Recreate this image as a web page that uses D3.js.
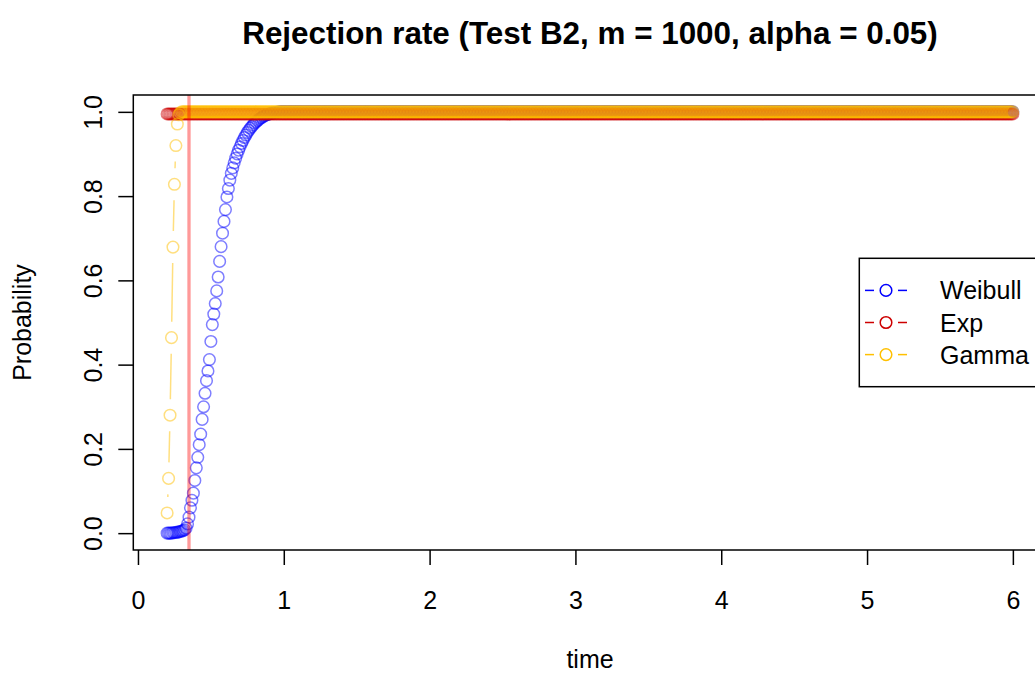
<!DOCTYPE html>
<html><head><meta charset="utf-8">
<script src="https://cdn.jsdelivr.net/npm/d3@7"></script>
<style>body{margin:0;background:#fff}svg{display:block}text{font-family:"Liberation Sans",Arial,Helvetica,sans-serif}</style>
</head><body><svg id="c" width="1035" height="675"></svg>
<script>
const time = [
0.2,0.21,0.22,0.23,0.24,0.25,0.26,0.27,0.28,0.29,
0.3,0.31,0.32,0.33,0.34,0.35,0.36,0.37,0.38,0.39,
0.4,0.41,0.42,0.43,0.44,0.45,0.46,0.47,0.48,0.49,
0.5,0.51,0.52,0.53,0.54,0.55,0.56,0.57,0.58,0.59,
0.6,0.61,0.62,0.63,0.64,0.65,0.66,0.67,0.68,0.69,
0.7,0.71,0.72,0.73,0.74,0.75,0.76,0.77,0.78,0.79,
0.8,0.81,0.82,0.83,0.84,0.85,0.86,0.87,0.88,0.89,
0.9,0.91,0.92,0.93,0.94,0.95,0.96,0.97,0.98,0.99,
1,1.01,1.02,1.03,1.04,1.05,1.06,1.07,1.08,1.09,
1.1,1.11,1.12,1.13,1.14,1.15,1.16,1.17,1.18,1.19,
1.2,1.21,1.22,1.23,1.24,1.25,1.26,1.27,1.28,1.29,
1.3,1.31,1.32,1.33,1.34,1.35,1.36,1.37,1.38,1.39,
1.4,1.41,1.42,1.43,1.44,1.45,1.46,1.47,1.48,1.49,
1.5,1.51,1.52,1.53,1.54,1.55,1.56,1.57,1.58,1.59,
1.6,1.61,1.62,1.63,1.64,1.65,1.66,1.67,1.68,1.69,
1.7,1.71,1.72,1.73,1.74,1.75,1.76,1.77,1.78,1.79,
1.8,1.81,1.82,1.83,1.84,1.85,1.86,1.87,1.88,1.89,
1.9,1.91,1.92,1.93,1.94,1.95,1.96,1.97,1.98,1.99,
2,2.01,2.02,2.03,2.04,2.05,2.06,2.07,2.08,2.09,
2.1,2.11,2.12,2.13,2.14,2.15,2.16,2.17,2.18,2.19,
2.2,2.21,2.22,2.23,2.24,2.25,2.26,2.27,2.28,2.29,
2.3,2.31,2.32,2.33,2.34,2.35,2.36,2.37,2.38,2.39,
2.4,2.41,2.42,2.43,2.44,2.45,2.46,2.47,2.48,2.49,
2.5,2.51,2.52,2.53,2.54,2.55,2.56,2.57,2.58,2.59,
2.6,2.61,2.62,2.63,2.64,2.65,2.66,2.67,2.68,2.69,
2.7,2.71,2.72,2.73,2.74,2.75,2.76,2.77,2.78,2.79,
2.8,2.81,2.82,2.83,2.84,2.85,2.86,2.87,2.88,2.89,
2.9,2.91,2.92,2.93,2.94,2.95,2.96,2.97,2.98,2.99,
3,3.01,3.02,3.03,3.04,3.05,3.06,3.07,3.08,3.09,
3.1,3.11,3.12,3.13,3.14,3.15,3.16,3.17,3.18,3.19,
3.2,3.21,3.22,3.23,3.24,3.25,3.26,3.27,3.28,3.29,
3.3,3.31,3.32,3.33,3.34,3.35,3.36,3.37,3.38,3.39,
3.4,3.41,3.42,3.43,3.44,3.45,3.46,3.47,3.48,3.49,
3.5,3.51,3.52,3.53,3.54,3.55,3.56,3.57,3.58,3.59,
3.6,3.61,3.62,3.63,3.64,3.65,3.66,3.67,3.68,3.69,
3.7,3.71,3.72,3.73,3.74,3.75,3.76,3.77,3.78,3.79,
3.8,3.81,3.82,3.83,3.84,3.85,3.86,3.87,3.88,3.89,
3.9,3.91,3.92,3.93,3.94,3.95,3.96,3.97,3.98,3.99,
4,4.01,4.02,4.03,4.04,4.05,4.06,4.07,4.08,4.09,
4.1,4.11,4.12,4.13,4.14,4.15,4.16,4.17,4.18,4.19,
4.2,4.21,4.22,4.23,4.24,4.25,4.26,4.27,4.28,4.29,
4.3,4.31,4.32,4.33,4.34,4.35,4.36,4.37,4.38,4.39,
4.4,4.41,4.42,4.43,4.44,4.45,4.46,4.47,4.48,4.49,
4.5,4.51,4.52,4.53,4.54,4.55,4.56,4.57,4.58,4.59,
4.6,4.61,4.62,4.63,4.64,4.65,4.66,4.67,4.68,4.69,
4.7,4.71,4.72,4.73,4.74,4.75,4.76,4.77,4.78,4.79,
4.8,4.81,4.82,4.83,4.84,4.85,4.86,4.87,4.88,4.89,
4.9,4.91,4.92,4.93,4.94,4.95,4.96,4.97,4.98,4.99,
5,5.01,5.02,5.03,5.04,5.05,5.06,5.07,5.08,5.09,
5.1,5.11,5.12,5.13,5.14,5.15,5.16,5.17,5.18,5.19,
5.2,5.21,5.22,5.23,5.24,5.25,5.26,5.27,5.28,5.29,
5.3,5.31,5.32,5.33,5.34,5.35,5.36,5.37,5.38,5.39,
5.4,5.41,5.42,5.43,5.44,5.45,5.46,5.47,5.48,5.49,
5.5,5.51,5.52,5.53,5.54,5.55,5.56,5.57,5.58,5.59,
5.6,5.61,5.62,5.63,5.64,5.65,5.66,5.67,5.68,5.69,
5.7,5.71,5.72,5.73,5.74,5.75,5.76,5.77,5.78,5.79,
5.8,5.81,5.82,5.83,5.84,5.85,5.86,5.87,5.88,5.89,
5.9,5.91,5.92,5.93,5.94,5.95,5.96,5.97,5.98,5.99,
6];

const weibull = [
0,0,0,0,0.001,0.001,0.002,0.002,0.003,0.004,
0.005,0.006,0.008,0.012,0.022,0.038,0.06,0.078,0.095,0.125,
0.155,0.18,0.21,0.235,0.27,0.3,0.332,0.362,0.385,0.412,
0.455,0.495,0.52,0.545,0.575,0.608,0.645,0.68,0.712,0.74,
0.768,0.798,0.818,0.838,0.854,0.867,0.879,0.89,0.9,0.909,
0.917,0.925,0.932,0.939,0.945,0.951,0.956,0.961,0.965,0.969,
0.973,0.976,0.979,0.982,0.985,0.987,0.989,0.991,0.993,0.994,
0.995,0.996,0.997,0.998,0.998,0.999,0.999,1,1,1,
1,1,1,1,1,1,1,1,1,1,
1,1,1,1,1,1,1,1,1,1,
1,1,1,1,1,1,1,1,1,1,
1,1,1,1,1,1,1,1,1,1,
1,1,1,1,1,1,1,1,1,1,
1,1,1,1,1,1,1,1,1,1,
1,1,1,1,1,1,1,1,1,1,
1,1,1,1,1,1,1,1,1,1,
1,1,1,1,1,1,1,1,1,1,
1,1,1,1,1,1,1,1,1,1,
1,1,1,1,1,1,1,1,1,1,
1,1,1,1,1,1,1,1,1,1,
1,1,1,1,1,1,1,1,1,1,
1,1,1,1,1,1,1,1,1,1,
1,1,1,1,1,1,1,1,1,1,
1,1,1,1,1,1,1,1,1,1,
1,1,1,1,1,1,1,1,1,1,
1,1,1,1,1,1,1,1,1,1,
1,1,1,1,1,1,1,1,1,1,
1,1,1,1,1,1,1,1,1,1,
1,1,1,1,1,1,1,1,1,1,
1,1,1,1,1,1,1,1,1,1,
1,1,1,1,1,1,1,1,1,1,
1,1,1,1,1,1,1,1,1,1,
1,1,1,1,1,1,1,1,1,1,
1,1,1,1,1,1,1,1,1,1,
1,1,1,1,1,1,1,1,1,1,
1,1,1,1,1,1,1,1,1,1,
1,1,1,1,1,1,1,1,1,1,
1,1,1,1,1,1,1,1,1,1,
1,1,1,1,1,1,1,1,1,1,
1,1,1,1,1,1,1,1,1,1,
1,1,1,1,1,1,1,1,1,1,
1,1,1,1,1,1,1,1,1,1,
1,1,1,1,1,1,1,1,1,1,
1,1,1,1,1,1,1,1,1,1,
1,1,1,1,1,1,1,1,1,1,
1,1,1,1,1,1,1,1,1,1,
1,1,1,1,1,1,1,1,1,1,
1,1,1,1,1,1,1,1,1,1,
1,1,1,1,1,1,1,1,1,1,
1,1,1,1,1,1,1,1,1,1,
1,1,1,1,1,1,1,1,1,1,
1,1,1,1,1,1,1,1,1,1,
1,1,1,1,1,1,1,1,1,1,
1,1,1,1,1,1,1,1,1,1,
1,1,1,1,1,1,1,1,1,1,
1,1,1,1,1,1,1,1,1,1,
1,1,1,1,1,1,1,1,1,1,
1,1,1,1,1,1,1,1,1,1,
1];

const expo = [
0.995,0.995,0.995,0.995,0.995,0.995,0.995,0.995,0.995,0.995,
0.995,0.995,0.995,0.995,0.995,0.995,0.995,0.995,0.995,0.995,
0.995,0.995,0.995,0.995,0.995,0.995,0.995,0.995,0.995,0.995,
0.995,0.995,0.995,0.995,0.995,0.995,0.995,0.995,0.995,0.995,
0.995,0.995,0.995,0.995,0.995,0.995,0.995,0.995,0.995,0.995,
0.995,0.995,0.995,0.995,0.995,0.995,0.995,0.995,0.995,0.995,
0.995,0.995,0.995,0.995,0.995,0.995,0.995,0.995,0.995,0.995,
0.995,0.995,0.995,0.995,0.995,0.995,0.995,0.995,0.995,0.995,
0.995,0.995,0.995,0.995,0.995,0.995,0.995,0.995,0.995,0.995,
0.995,0.995,0.995,0.995,0.995,0.995,0.995,0.995,0.995,0.995,
0.995,0.995,0.995,0.995,0.995,0.995,0.995,0.995,0.995,0.995,
0.995,0.995,0.995,0.995,0.995,0.995,0.995,0.995,0.995,0.995,
0.995,0.995,0.995,0.995,0.995,0.995,0.995,0.995,0.995,0.995,
0.995,0.995,0.995,0.995,0.995,0.995,0.995,0.995,0.995,0.995,
0.995,0.995,0.995,0.995,0.995,0.995,0.995,0.995,0.995,0.995,
0.995,0.995,0.995,0.995,0.995,0.995,0.995,0.995,0.995,0.995,
0.995,0.995,0.995,0.995,0.995,0.995,0.995,0.995,0.995,0.995,
0.995,0.995,0.995,0.995,0.995,0.995,0.995,0.995,0.995,0.995,
0.995,0.995,0.995,0.995,0.995,0.995,0.995,0.995,0.995,0.995,
0.995,0.995,0.995,0.995,0.995,0.995,0.995,0.995,0.995,0.995,
0.995,0.995,0.995,0.995,0.995,0.995,0.995,0.995,0.995,0.995,
0.995,0.995,0.995,0.995,0.995,0.995,0.995,0.995,0.995,0.995,
0.995,0.995,0.995,0.995,0.995,0.995,0.995,0.995,0.995,0.995,
0.995,0.995,0.995,0.995,0.995,0.995,0.995,0.995,0.995,0.995,
0.995,0.995,0.995,0.995,0.995,0.995,0.995,0.995,0.995,0.995,
0.995,0.995,0.995,0.995,0.995,0.995,0.995,0.995,0.995,0.995,
0.995,0.995,0.995,0.995,0.995,0.995,0.995,0.995,0.995,0.995,
0.995,0.995,0.995,0.995,0.995,0.995,0.995,0.995,0.995,0.995,
0.995,0.995,0.995,0.995,0.995,0.995,0.995,0.995,0.995,0.995,
0.995,0.995,0.995,0.995,0.995,0.995,0.995,0.995,0.995,0.995,
0.995,0.995,0.995,0.995,0.995,0.995,0.995,0.995,0.995,0.995,
0.995,0.995,0.995,0.995,0.995,0.995,0.995,0.995,0.995,0.995,
0.995,0.995,0.995,0.995,0.995,0.995,0.995,0.995,0.995,0.995,
0.995,0.995,0.995,0.995,0.995,0.995,0.995,0.995,0.995,0.995,
0.995,0.995,0.995,0.995,0.995,0.995,0.995,0.995,0.995,0.995,
0.995,0.995,0.995,0.995,0.995,0.995,0.995,0.995,0.995,0.995,
0.995,0.995,0.995,0.995,0.995,0.995,0.995,0.995,0.995,0.995,
0.995,0.995,0.995,0.995,0.995,0.995,0.995,0.995,0.995,0.995,
0.995,0.995,0.995,0.995,0.995,0.995,0.995,0.995,0.995,0.995,
0.995,0.995,0.995,0.995,0.995,0.995,0.995,0.995,0.995,0.995,
0.995,0.995,0.995,0.995,0.995,0.995,0.995,0.995,0.995,0.995,
0.995,0.995,0.995,0.995,0.995,0.995,0.995,0.995,0.995,0.995,
0.995,0.995,0.995,0.995,0.995,0.995,0.995,0.995,0.995,0.995,
0.995,0.995,0.995,0.995,0.995,0.995,0.995,0.995,0.995,0.995,
0.995,0.995,0.995,0.995,0.995,0.995,0.995,0.995,0.995,0.995,
0.995,0.995,0.995,0.995,0.995,0.995,0.995,0.995,0.995,0.995,
0.995,0.995,0.995,0.995,0.995,0.995,0.995,0.995,0.995,0.995,
0.995,0.995,0.995,0.995,0.995,0.995,0.995,0.995,0.995,0.995,
0.995,0.995,0.995,0.995,0.995,0.995,0.995,0.995,0.995,0.995,
0.995,0.995,0.995,0.995,0.995,0.995,0.995,0.995,0.995,0.995,
0.995,0.995,0.995,0.995,0.995,0.995,0.995,0.995,0.995,0.995,
0.995,0.995,0.995,0.995,0.995,0.995,0.995,0.995,0.995,0.995,
0.995,0.995,0.995,0.995,0.995,0.995,0.995,0.995,0.995,0.995,
0.995,0.995,0.995,0.995,0.995,0.995,0.995,0.995,0.995,0.995,
0.995,0.995,0.995,0.995,0.995,0.995,0.995,0.995,0.995,0.995,
0.995,0.995,0.995,0.995,0.995,0.995,0.995,0.995,0.995,0.995,
0.995,0.995,0.995,0.995,0.995,0.995,0.995,0.995,0.995,0.995,
0.995,0.995,0.995,0.995,0.995,0.995,0.995,0.995,0.995,0.995,
0.995];

const gamma = [
0.048,0.13,0.28,0.464,0.679,0.828,0.92,0.971,0.993,0.998,
1,1,1,1,1,1,1,1,1,1,
1,1,1,1,1,1,1,1,1,1,
1,1,1,1,1,1,1,1,1,1,
1,1,1,1,1,1,1,1,1,1,
1,1,1,1,1,1,1,1,1,1,
1,1,1,1,1,1,1,1,1,1,
1,1,1,1,1,1,1,1,1,1,
1,1,1,1,1,1,1,1,1,1,
1,1,1,1,1,1,1,1,1,1,
1,1,1,1,1,1,1,1,1,1,
1,1,1,1,1,1,1,1,1,1,
1,1,1,1,1,1,1,1,1,1,
1,1,1,1,1,1,1,1,1,1,
1,1,1,1,1,1,1,1,1,1,
1,1,1,1,1,1,1,1,1,1,
1,1,1,1,1,1,1,1,1,1,
1,1,1,1,1,1,1,1,1,1,
1,1,1,1,1,1,1,1,1,1,
1,1,1,1,1,1,1,1,1,1,
1,1,1,1,1,1,1,1,1,1,
1,1,1,1,1,1,1,1,1,1,
1,1,1,1,1,1,1,1,1,1,
1,1,1,1,1,1,1,1,1,1,
1,1,1,1,1,1,1,1,1,1,
1,1,1,1,1,1,1,1,1,1,
1,1,1,1,1,1,1,1,1,1,
1,1,1,1,1,1,1,1,1,1,
1,1,1,1,1,1,1,1,1,1,
1,1,1,1,1,1,1,1,1,1,
1,1,1,1,1,1,1,1,1,1,
1,1,1,1,1,1,1,1,1,1,
1,1,1,1,1,1,1,1,1,1,
1,1,1,1,1,1,1,1,1,1,
1,1,1,1,1,1,1,1,1,1,
1,1,1,1,1,1,1,1,1,1,
1,1,1,1,1,1,1,1,1,1,
1,1,1,1,1,1,1,1,1,1,
1,1,1,1,1,1,1,1,1,1,
1,1,1,1,1,1,1,1,1,1,
1,1,1,1,1,1,1,1,1,1,
1,1,1,1,1,1,1,1,1,1,
1,1,1,1,1,1,1,1,1,1,
1,1,1,1,1,1,1,1,1,1,
1,1,1,1,1,1,1,1,1,1,
1,1,1,1,1,1,1,1,1,1,
1,1,1,1,1,1,1,1,1,1,
1,1,1,1,1,1,1,1,1,1,
1,1,1,1,1,1,1,1,1,1,
1,1,1,1,1,1,1,1,1,1,
1,1,1,1,1,1,1,1,1,1,
1,1,1,1,1,1,1,1,1,1,
1,1,1,1,1,1,1,1,1,1,
1,1,1,1,1,1,1,1,1,1,
1,1,1,1,1,1,1,1,1,1,
1,1,1,1,1,1,1,1,1,1,
1,1,1,1,1,1,1,1,1,1,
1,1,1,1,1,1,1,1,1,1,
1];

const seriesNames = ["Weibull", "Exp", "Gamma"];
const seriesColors = ["#0000FF", "#CD0000", "#FFC000"];
const xTicks = [0, 1, 2, 3, 4, 5, 6];
const yTicks = [0, 0.2, 0.4, 0.6, 0.8, 1.0];
const yTickLabels = ["0.0", "0.2", "0.4", "0.6", "0.8", "1.0"];
const criticalTime = 0.35;
const titleText = "Rejection rate (Test B2, m = 1000, alpha = 0.05)";
const xLabel = "time";
const yLabel = "Probability";

const svg = d3.select("#c");
const L = 133.3, R = 1046.7, T = 95, B = 550;
const FS = 25;

const xe = d3.extent(time), xpad = (xe[1] - xe[0]) * 0.04;
const allV = weibull.concat(expo, gamma);
const ye = [0, d3.max(allV)], ypad = (ye[1] - ye[0]) * 0.04;
const x = d3.scaleLinear().domain([xe[0] - xpad, xe[1] + xpad]).range([L, R]);
const y = d3.scaleLinear().domain([ye[0] - ypad, ye[1] + ypad]).range([B, T]);

svg.append("defs").append("clipPath").attr("id", "plotclip")
  .append("rect").attr("x", L).attr("y", T).attr("width", R - L).attr("height", B - T);

const plot = svg.append("g").attr("clip-path", "url(#plotclip)");
const series = [weibull, expo, gamma];
const gap = 16;

series.forEach((vals, si) => {
  const n = Math.min(time.length, vals.length);
  const pts = d3.range(n).map(i => [x(time[i]), y(vals[i])]);
  const segs = [];
  for (let i = 0; i < n - 1; i++) {
    const [x1, y1] = pts[i], [x2, y2] = pts[i + 1];
    const d = Math.hypot(x2 - x1, y2 - y1);
    if (d > 2 * gap) {
      const ux = (x2 - x1) / d, uy = (y2 - y1) / d;
      segs.push([x1 + ux * gap, y1 + uy * gap, x2 - ux * gap, y2 - uy * gap]);
    }
  }
  const g = plot.append("g");
  g.selectAll("line").data(segs).join("line")
    .attr("x1", d => d[0]).attr("y1", d => d[1]).attr("x2", d => d[2]).attr("y2", d => d[3])
    .attr("stroke", seriesColors[si]).attr("stroke-opacity", 0.5).attr("stroke-width", 1.5);
  g.selectAll("circle").data(pts).join("circle")
    .attr("cx", d => d[0]).attr("cy", d => d[1]).attr("r", 5.8)
    .attr("fill", "none").attr("stroke", seriesColors[si])
    .attr("stroke-opacity", 0.5).attr("stroke-width", 1.5);
});

plot.append("line")
  .attr("x1", x(criticalTime)).attr("x2", x(criticalTime)).attr("y1", T).attr("y2", B)
  .attr("stroke", "#FF0000").attr("stroke-opacity", 0.4).attr("stroke-width", 3.3);

// box
svg.append("rect").attr("x", L).attr("y", T).attr("width", R - L).attr("height", B - T)
  .attr("fill", "none").attr("stroke", "#000").attr("stroke-width", 1.5);

// x axis
const xa = svg.append("g").attr("transform", `translate(0,${B})`)
  .call(d3.axisBottom(x).tickValues(xTicks).tickSize(15).tickPadding(26).tickFormat(d3.format("d")));
xa.select(".domain").remove();
xa.selectAll("line").attr("stroke", "#000").attr("stroke-width", 1.5);
xa.selectAll("text").attr("font-size", FS).attr("fill", "#000").style("font-family", '"Liberation Sans",Arial,sans-serif');

// y axis
const ya = svg.append("g").attr("transform", `translate(${L},0)`)
  .call(d3.axisLeft(y).tickValues(yTicks).tickSize(15).tickFormat((d, i) => yTickLabels[i]));
ya.select(".domain").remove();
ya.selectAll("line").attr("stroke", "#000").attr("stroke-width", 1.5);
ya.selectAll("text").attr("x", null).attr("dy", null)
  .attr("transform", `translate(${102 - L},0) rotate(-90)`)
  .attr("text-anchor", "middle").attr("font-size", FS).attr("fill", "#000")
  .style("font-family", '"Liberation Sans",Arial,sans-serif');

// labels
svg.append("text").attr("x", (L + R) / 2).attr("y", 44).attr("text-anchor", "middle")
  .attr("font-size", 31.4).attr("font-weight", "bold").text(titleText);
svg.append("text").attr("x", (L + R) / 2).attr("y", 668).attr("text-anchor", "middle")
  .attr("font-size", FS).text(xLabel);
svg.append("text").attr("transform", `translate(31,${(T + B) / 2}) rotate(-90)`)
  .attr("text-anchor", "middle").attr("font-size", FS).text(yLabel);

// legend
const lgTop = 258.3, lgH = 128.4, lgLeft = 859.3, rowH = 32.1;
svg.append("rect").attr("x", lgLeft).attr("y", lgTop).attr("width", R - lgLeft).attr("height", lgH)
  .attr("fill", "#fff").attr("stroke", "#000").attr("stroke-width", 1.5);
const lg = svg.append("g");
seriesNames.forEach((name, i) => {
  const cy = lgTop + rowH * (i + 1);
  const row = lg.append("g");
  row.append("line").attr("x1", 865).attr("x2", 874).attr("y1", cy).attr("y2", cy)
    .attr("stroke", seriesColors[i]).attr("stroke-width", 1.5);
  row.append("line").attr("x1", 898).attr("x2", 907).attr("y1", cy).attr("y2", cy)
    .attr("stroke", seriesColors[i]).attr("stroke-width", 1.5);
  row.append("circle").attr("cx", 886).attr("cy", cy).attr("r", 5.8)
    .attr("fill", "none").attr("stroke", seriesColors[i]).attr("stroke-width", 1.5);
  row.append("text").attr("x", 940).attr("y", cy + 9).attr("font-size", FS).text(name);
});
</script>
</body></html>
